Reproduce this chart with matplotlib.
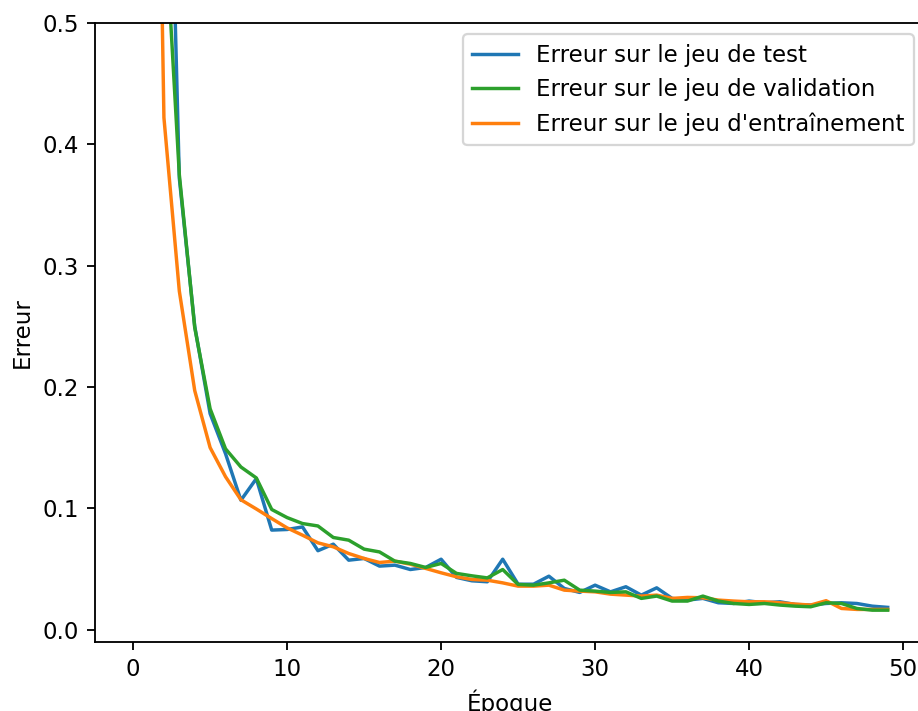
import matplotlib
matplotlib.use("Agg")
import matplotlib.pyplot as plt
import numpy as np

epochs = list(range(50))

err_test = [2.30, 1.60, 0.86, 0.372, 0.250, 0.178, 0.145, 0.1066, 0.1244, 0.082,
            0.0825, 0.0846, 0.065, 0.0704, 0.0572, 0.0586, 0.0523, 0.0531, 0.0495, 0.0512,
            0.058, 0.043, 0.0402, 0.0394, 0.058, 0.0374, 0.0374, 0.044, 0.0339, 0.0306,
            0.0366, 0.0311, 0.0353, 0.0284, 0.0344, 0.0257, 0.0243, 0.0257, 0.0221, 0.0215,
            0.0235, 0.0221, 0.0229, 0.0207, 0.0202, 0.0215, 0.0221, 0.0215, 0.0193, 0.0183]

err_train = [2.00, 1.17, 0.422, 0.279, 0.197, 0.150, 0.126, 0.107, 0.0994, 0.0915,
             0.0838, 0.0778, 0.0715, 0.0682, 0.0627, 0.0586, 0.0553, 0.0564, 0.0539, 0.0504,
             0.0468, 0.0435, 0.0413, 0.0407, 0.0385, 0.0358, 0.0358, 0.0366, 0.0325, 0.0317,
             0.0311, 0.0292, 0.0284, 0.0276, 0.0284, 0.0257, 0.0265, 0.0262, 0.0243, 0.0235,
             0.0229, 0.0229, 0.0221, 0.021, 0.0202, 0.0238, 0.0174, 0.0166, 0.0166, 0.0166]

err_valid = [2.30, 1.55, 0.60, 0.375, 0.249, 0.182, 0.149, 0.134, 0.125, 0.099,
             0.0923, 0.0874, 0.0854, 0.0759, 0.0737, 0.0663, 0.064, 0.0564, 0.0545, 0.0512,
             0.0545, 0.0463, 0.0443, 0.0426, 0.0495, 0.0372, 0.0366, 0.0385, 0.0407, 0.0325,
             0.0317, 0.0306, 0.0311, 0.0257, 0.0276, 0.0235, 0.0235, 0.0276, 0.0235, 0.0215,
             0.0207, 0.0215, 0.0202, 0.0193, 0.0188, 0.0221, 0.0215, 0.0174, 0.016, 0.016]

label_test = "Erreur sur le jeu de test"
label_valid = "Erreur sur le jeu de validation"
label_train = "Erreur sur le jeu d'entraînement"

W, H, DPI = 918, 711, 165
fig = plt.figure(figsize=(W / DPI, H / DPI), dpi=DPI)
ax = fig.add_axes([95.4 / W, 69.3 / H, 830.0 / W, 618.7 / H])

l_test, = ax.plot(epochs, err_test, color="#1f77b4", lw=1.5, label=label_test)
l_train, = ax.plot(epochs, err_train, color="#ff7f0e", lw=1.5, label=label_train)
l_valid, = ax.plot(epochs, err_valid, color="#2ca02c", lw=1.5, label=label_valid)

ax.set_xlim(-2.45, 51.45)
ax.set_ylim(-0.01, 0.5)
ax.set_xticks([0, 10, 20, 30, 40, 50])
ax.set_yticks([0.0, 0.1, 0.2, 0.3, 0.4, 0.5])
ax.set_xlabel("Époque")
ax.set_ylabel("Erreur")
ax.legend(handles=[l_test, l_valid, l_train], loc="upper right")

fig.savefig("out.png", dpi=DPI)
